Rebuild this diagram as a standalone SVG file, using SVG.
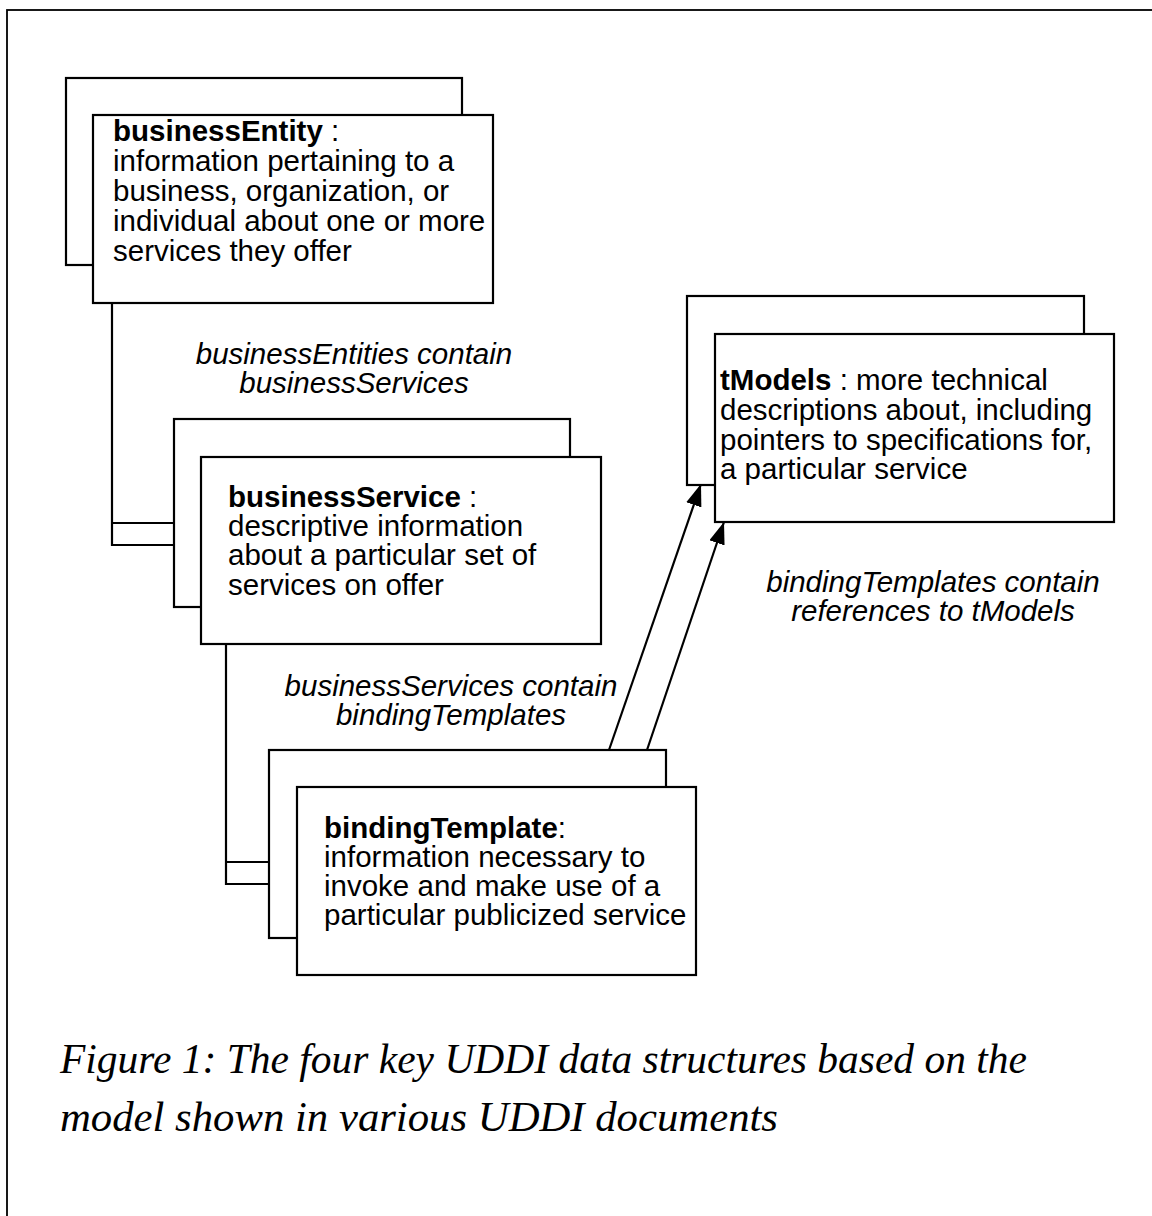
<svg xmlns="http://www.w3.org/2000/svg" width="1152" height="1216" viewBox="0 0 1152 1216">
<style>
.box{fill:#fff;stroke:#000;stroke-width:2.2}
.t{font-family:"Liberation Sans",Arial,sans-serif;font-size:29.5px;fill:#000}
.b{font-weight:bold}
.lbl{font-family:"Liberation Sans",Arial,sans-serif;font-size:29.5px;font-style:italic;fill:#000;text-anchor:middle}
.cap{font-family:"Liberation Serif","Times New Roman",serif;font-size:42px;font-style:italic;fill:#000}
.ln{fill:none;stroke:#000;stroke-width:2.2}
</style>
<defs>
<marker id="ah" markerUnits="userSpaceOnUse" markerWidth="24" markerHeight="18" refX="22" refY="8" orient="auto">
<path d="M0,0 L22,8 L0,16 Z" fill="#000"/>
</marker>
</defs>
<rect width="1152" height="1216" fill="#fff"/>
<rect x="7" y="10" width="1170" height="1230" fill="none" stroke="#000" stroke-width="1.8"/>

<g id="connectors">
<path class="ln" d="M112,304 V545 H174 M112,523 H174"/>
<path class="ln" d="M226,644 V884 H269 M226,862 H269"/>
<path class="ln" d="M609,750 L701,484" marker-end="url(#ah)"/>
<path class="ln" d="M647,750 L724,522" marker-end="url(#ah)"/>
</g>

<g id="businessEntity">
<rect class="box" x="66" y="78" width="396" height="187"/>
<rect class="box" x="93" y="115" width="400" height="188"/>
<text class="t" x="113" y="141"><tspan class="b">businessEntity</tspan> :</text>
<text class="t" x="113" y="171">information pertaining to a</text>
<text class="t" x="113" y="201">business, organization, or</text>
<text class="t" x="113" y="231">individual about one or more</text>
<text class="t" x="113" y="261">services they offer</text>
</g>

<g id="businessService">
<rect class="box" x="174" y="419" width="396" height="188"/>
<rect class="box" x="201" y="457" width="400" height="187"/>
<text class="t" x="228" y="507"><tspan class="b">businessService</tspan> :</text>
<text class="t" x="228" y="536">descriptive information</text>
<text class="t" x="228" y="565">about a particular set of</text>
<text class="t" x="228" y="595">services on offer</text>
</g>

<g id="bindingTemplate">
<rect class="box" x="269" y="750" width="397" height="188"/>
<rect class="box" x="297" y="787" width="399" height="188"/>
<text class="t" x="324" y="838"><tspan class="b">bindingTemplate</tspan>:</text>
<text class="t" x="324" y="867">information necessary to</text>
<text class="t" x="324" y="896">invoke and make use of a</text>
<text class="t" x="324" y="925">particular publicized service</text>
</g>

<g id="tModels">
<rect class="box" x="687" y="296" width="397" height="189"/>
<rect class="box" x="715" y="334" width="399" height="188"/>
<text class="t" x="720" y="390"><tspan class="b">tModels</tspan> : more technical</text>
<text class="t" x="720" y="420">descriptions about, including</text>
<text class="t" x="720" y="450">pointers to specifications for,</text>
<text class="t" x="720" y="479">a particular service</text>
</g>

<g id="labels">
<text class="lbl" x="354" y="364">businessEntities contain</text>
<text class="lbl" x="354" y="393">businessServices</text>
<text class="lbl" x="451" y="696">businessServices contain</text>
<text class="lbl" x="451" y="725">bindingTemplates</text>
<text class="lbl" x="933" y="592">bindingTemplates contain</text>
<text class="lbl" x="933" y="621">references to tModels</text>
</g>

<g id="caption">
<text class="cap" x="60" y="1073" textLength="967" lengthAdjust="spacingAndGlyphs">Figure 1: The four key UDDI data structures based on the</text>
<text class="cap" x="60" y="1131" textLength="718" lengthAdjust="spacingAndGlyphs">model shown in various UDDI documents</text>
</g>
</svg>
